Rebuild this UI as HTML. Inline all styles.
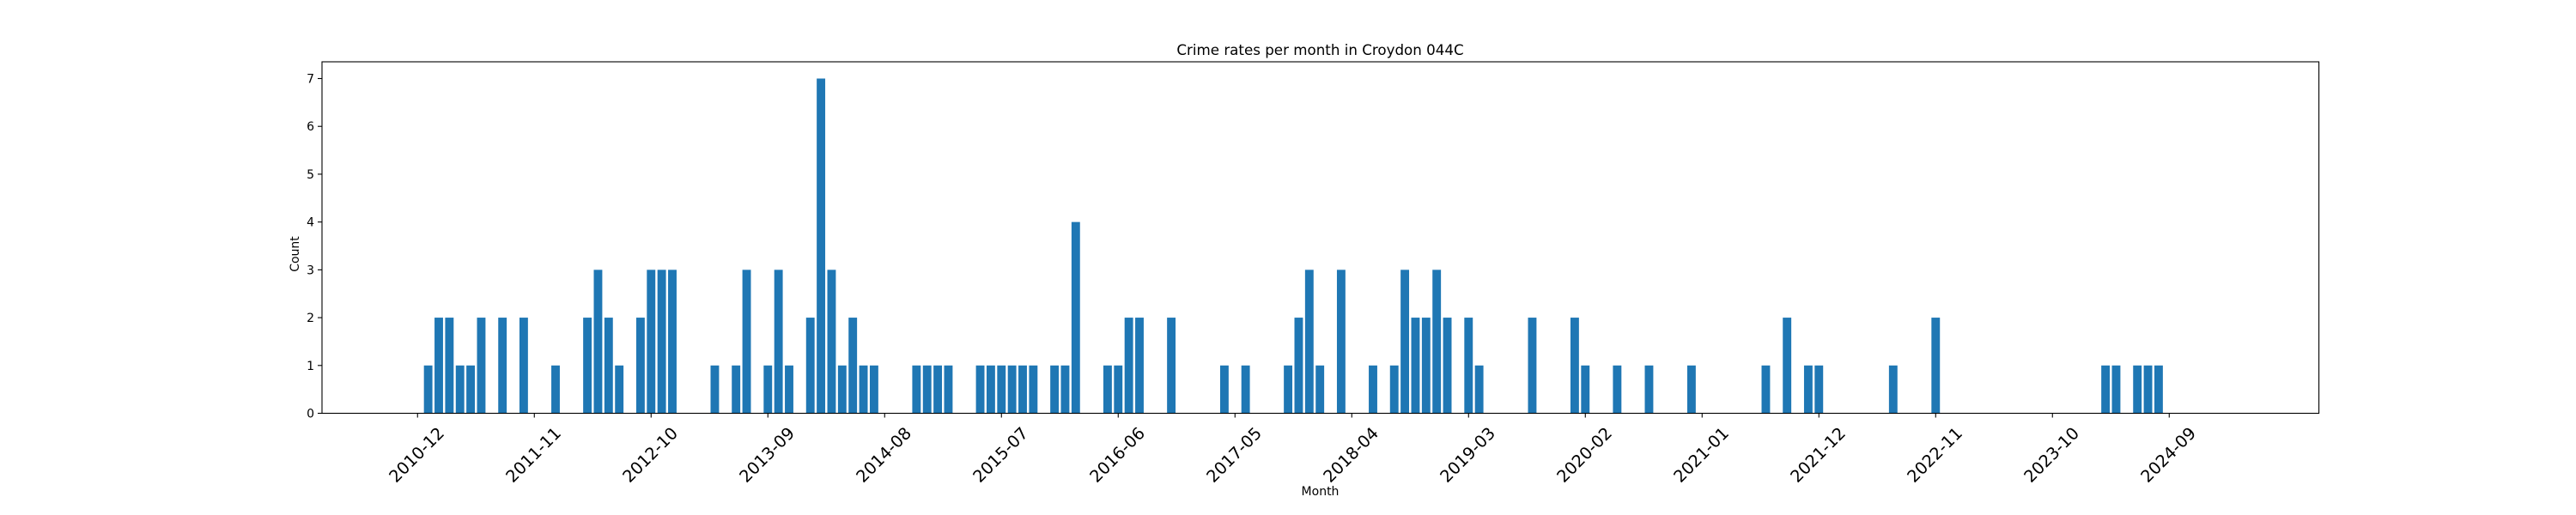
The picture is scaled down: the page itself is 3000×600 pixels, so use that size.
<!DOCTYPE html>
<html><head><meta charset="utf-8"><style>
html,body{margin:0;padding:0;background:#fff;}
svg{display:block;font-family:"DejaVu Sans","Liberation Sans",sans-serif;}
</style></head><body>
<svg id="chart" width="3000" height="600" viewBox="0 0 3000 600" xmlns="http://www.w3.org/2000/svg">
<rect x="0" y="0" width="3000" height="600" fill="#fff"/>
<text x="1537.5" y="64" font-size="16.7" text-anchor="middle" fill="#000">Crime rates per month in Croydon 044C</text>
<text transform="translate(348,296) rotate(-90)" font-size="14" text-anchor="middle" fill="#000">Count</text>
<text x="1537.5" y="577" font-size="14" text-anchor="middle" fill="#000">Month</text>
<g id="bars"></g>
<g id="yticks"></g>
<g id="xticks"></g>
<rect x="375" y="72" width="2325.6" height="409.5" fill="none" stroke="#000" stroke-width="1.1"/>
</svg>
<script>
// month index counted from 2010-12 (index 0)
const monthIndex = [1,2,3,4,5,6,8,10,13,16,17,18,19,21,22,23,24,28,30,31,33,34,35,37,38,39,40,41,42,43,47,48,49,50,53,54,55,56,57,58,60,61,62,65,66,67,68,71,76,78,82,83,84,85,87,90,92,93,94,95,96,97,99,100,105,109,110,113,116,120,127,129,131,132,139,143,159,160,162,163,164];
const counts = [1,2,2,1,1,2,2,2,1,2,3,2,1,2,3,3,3,1,1,3,1,3,1,2,7,3,1,2,1,1,1,1,1,1,1,1,1,1,1,1,1,1,4,1,1,2,2,2,1,1,1,2,3,1,3,1,1,3,2,2,3,2,2,1,2,2,1,1,1,1,1,2,1,1,1,2,1,1,1,1,1];
const xTickIndex = [0,11,22,33,44,55,66,77,88,99,110,121,132,143,154,165];
const xTickLabels = ["2010-12","2011-11","2012-10","2013-09","2014-08","2015-07","2016-06","2017-05","2018-04","2019-03","2020-02","2021-01","2021-12","2022-11","2023-10","2024-09"];
const yTicks = [0,1,2,3,4,5,6,7];

const NS = "http://www.w3.org/2000/svg";
const X0 = 375, X1 = 2700.6, Y0 = 481.5, Y1 = 72;
const xMin = -9.0, xMax = 179.1, yMax = 7.35;
function xs(v){ return X0 + (v - xMin) / (xMax - xMin) * (X1 - X0); }
function ys(v){ return Y0 - v / yMax * (Y0 - Y1); }
const bw = 0.8 * (xs(1) - xs(0));

const gb = document.getElementById('bars');
for (let i = 0; i < monthIndex.length; i++) {
  const r = document.createElementNS(NS, 'rect');
  
  
  r.setAttribute('x', xs(monthIndex[i]) - bw / 2);
  r.setAttribute('y', ys(counts[i]));
  r.setAttribute('width', bw);
  r.setAttribute('height', ys(0) - ys(counts[i]));
  r.setAttribute('fill', '#1f77b4');
  gb.appendChild(r);
}
const gy = document.getElementById('yticks');
for (const t of yTicks) {
  const l = document.createElementNS(NS, 'line');
  
  
  l.setAttribute('x1', X0 - 5); l.setAttribute('x2', X0);
  l.setAttribute('y1', ys(t)); l.setAttribute('y2', ys(t));
  l.setAttribute('stroke', '#000'); l.setAttribute('stroke-width', '1.1');
  gy.appendChild(l);
  const tx = document.createElementNS(NS, 'text');
  
  
  tx.setAttribute('x', X0 - 9); tx.setAttribute('y', ys(t) + 5);
  tx.setAttribute('font-size', '14'); tx.setAttribute('text-anchor', 'end');
  tx.textContent = String(t);
  gy.appendChild(tx);
}
const gx = document.getElementById('xticks');
for (let i = 0; i < xTickIndex.length; i++) {
  const x = xs(xTickIndex[i]);
  const l = document.createElementNS(NS, 'line');
  
  
  l.setAttribute('x1', x); l.setAttribute('x2', x);
  l.setAttribute('y1', Y0); l.setAttribute('y2', Y0 + 5);
  l.setAttribute('stroke', '#000'); l.setAttribute('stroke-width', '1.1');
  gx.appendChild(l);
  const tx = document.createElementNS(NS, 'text');
  
  
  tx.setAttribute('transform', 'translate(' + (x - 1) + ',530) rotate(-45)');
  tx.setAttribute('font-size', '19.4'); tx.setAttribute('text-anchor', 'middle');
  tx.setAttribute('dominant-baseline', 'central');
  tx.textContent = xTickLabels[i];
  gx.appendChild(tx);
}
</script>
</body></html>
